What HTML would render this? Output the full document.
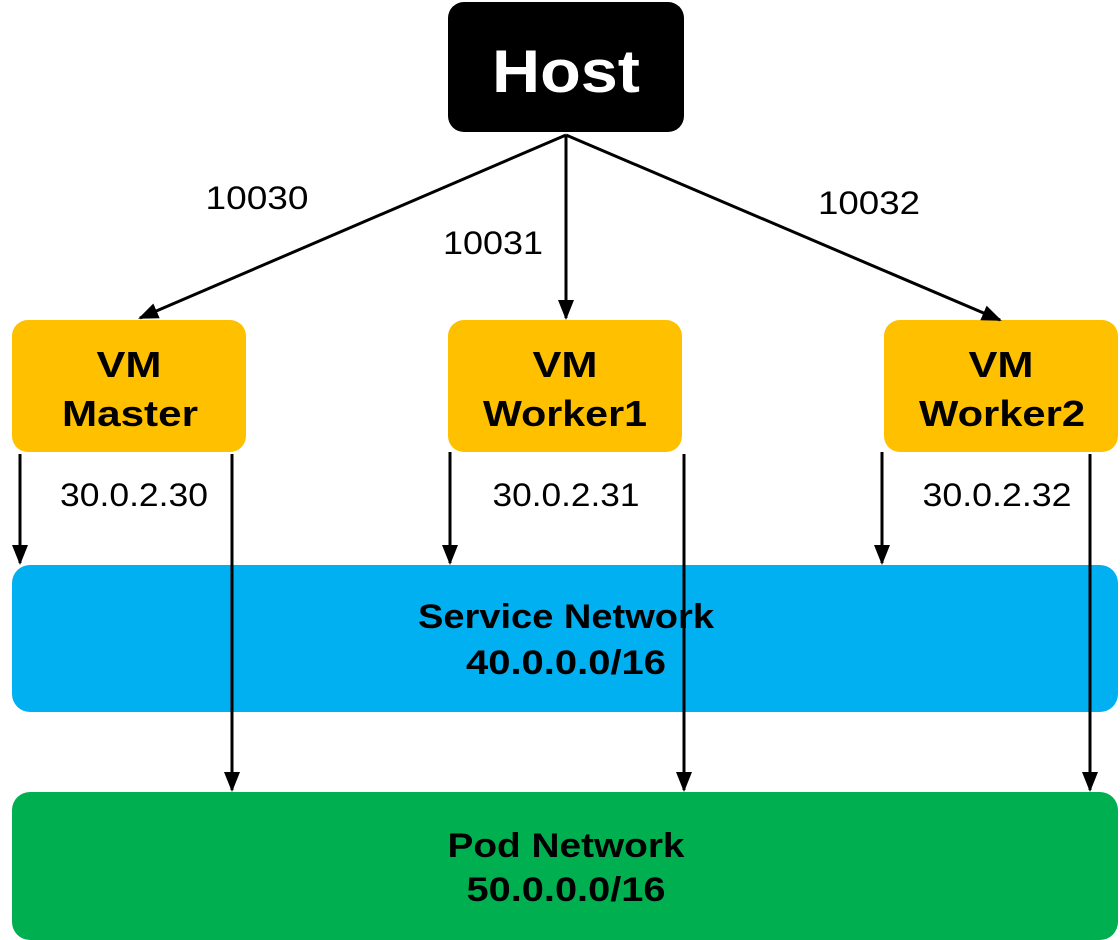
<!DOCTYPE html>
<html><head><meta charset="utf-8"><style>
html,body{margin:0;padding:0;background:#fff;}
svg{display:block;font-family:"Liberation Sans","DejaVu Sans",sans-serif;}
</style></head><body>
<svg width="1120" height="940" viewBox="0 0 1120 940" xmlns="http://www.w3.org/2000/svg">
<defs>
<marker id="a" markerWidth="20" markerHeight="16" refX="18" refY="8" orient="auto" markerUnits="userSpaceOnUse" viewBox="0 0 20 16">
<path d="M0,0 L20,8 L0,16 z" fill="#000"/>
</marker>
</defs>
<rect x="448" y="2" width="236" height="130" rx="16" fill="#000"/>
<text x="566" y="92" text-anchor="middle" font-size="60" font-weight="bold" fill="#fff" textLength="148" lengthAdjust="spacingAndGlyphs">Host</text>

<rect x="12" y="320" width="234" height="132" rx="16" fill="#FFC000"/>
<rect x="448" y="320" width="234" height="132" rx="16" fill="#FFC000"/>
<rect x="884" y="320" width="234" height="132" rx="16" fill="#FFC000"/>
<g font-size="36" font-weight="bold" text-anchor="middle" fill="#000" lengthAdjust="spacingAndGlyphs">
<text x="129" y="377" textLength="65" lengthAdjust="spacingAndGlyphs">VM</text><text x="130" y="426" textLength="136" lengthAdjust="spacingAndGlyphs">Master</text>
<text x="565" y="377" textLength="65" lengthAdjust="spacingAndGlyphs">VM</text><text x="565" y="426" textLength="164" lengthAdjust="spacingAndGlyphs">Worker1</text>
<text x="1001" y="377" textLength="65" lengthAdjust="spacingAndGlyphs">VM</text><text x="1002" y="426" textLength="166" lengthAdjust="spacingAndGlyphs">Worker2</text>
</g>

<rect x="12" y="565" width="1106" height="147" rx="18" fill="#00B0F0"/>
<rect x="12" y="792" width="1106" height="148" rx="18" fill="#00B050"/>
<g font-size="34" font-weight="bold" text-anchor="middle" fill="#000">
<text x="566" y="628" textLength="296" lengthAdjust="spacingAndGlyphs">Service Network</text><text x="566" y="674" textLength="200" lengthAdjust="spacingAndGlyphs">40.0.0.0/16</text>
<text x="566" y="857" textLength="237" lengthAdjust="spacingAndGlyphs">Pod Network</text><text x="566" y="901" textLength="199" lengthAdjust="spacingAndGlyphs">50.0.0.0/16</text>
</g>

<g stroke="#000" stroke-width="3" fill="none" marker-end="url(#a)">
<line x1="566" y1="135" x2="140" y2="318"/>
<line x1="566" y1="135" x2="566" y2="318"/>
<line x1="566" y1="135" x2="1000" y2="320"/>
<line x1="20" y1="454" x2="20" y2="563"/>
<line x1="232" y1="454" x2="232" y2="790"/>
<line x1="450" y1="452" x2="450" y2="563"/>
<line x1="684" y1="454" x2="684" y2="790"/>
<line x1="882" y1="452" x2="882" y2="563"/>
<line x1="1090" y1="454" x2="1090" y2="790"/>
</g>

<g font-size="32" fill="#000" text-anchor="middle">
<text x="257" y="209" textLength="103" lengthAdjust="spacingAndGlyphs">10030</text>
<text x="493" y="254" textLength="100" lengthAdjust="spacingAndGlyphs">10031</text>
<text x="869" y="214" textLength="102" lengthAdjust="spacingAndGlyphs">10032</text>
<text x="134" y="506" textLength="148" lengthAdjust="spacingAndGlyphs">30.0.2.30</text>
<text x="566" y="506" textLength="147" lengthAdjust="spacingAndGlyphs">30.0.2.31</text>
<text x="997" y="506" textLength="149" lengthAdjust="spacingAndGlyphs">30.0.2.32</text>
</g>
</svg>
</body></html>
